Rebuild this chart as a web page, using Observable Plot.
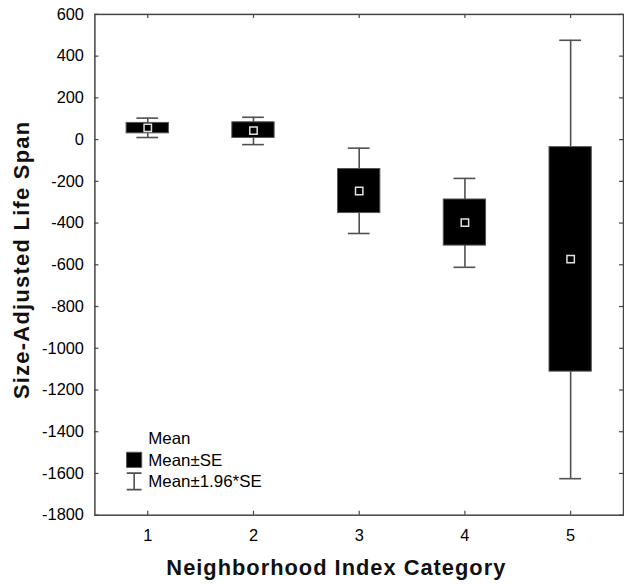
<!DOCTYPE html>
<html>
<head>
<meta charset="utf-8">
<script src="https://cdn.jsdelivr.net/npm/d3@7"></script>
<script src="https://cdn.jsdelivr.net/npm/@observablehq/plot@0.6"></script>
<style>
  html, body { margin: 0; padding: 0; background: #fff; overflow: hidden; }
  #chart svg { display: block; }
</style>
</head>
<body>
<div id="chart"></div>
<script>
// ---- data ----
const categories = [1, 2, 3, 4, 5];
const means      = [56, 43, -246, -398, -573];
const seLow      = [30, 8, -352, -508, -1112];
const seHigh     = [80, 83, -141, -287, -36];
const ciLow      = [10, -24, -450, -612, -1625];
const ciHigh     = [103, 107, -41, -186, 476];

const xTicks = [1, 2, 3, 4, 5];
const yTicks = [600, 400, 200, 0, -200, -400, -600, -800, -1000, -1200, -1400, -1600, -1800];

const xTitle = "Neighborhood Index Category";
const yTitle = "Size-Adjusted Life Span";
const legendLabels = ["Mean", "Mean\u00b1SE", "Mean\u00b11.96*SE"];

const rows = categories.map((c, i) => ({
  cat: c, mean: means[i], seLow: seLow[i], seHigh: seHigh[i], ciLow: ciLow[i], ciHigh: ciHigh[i]
}));

// ---- layout ----
const W = 628, H = 585;
const mL = 95, mR = 1, mT = 14, mB = 67;
const plotW = W - mL - mR, plotH = H - mT - mB;
const boxHalf = 0.2, capHalf = 0.103;
const whiskerColor = "#505050";

// I-beam symbol for the legend
const ibeam = {
  draw(ctx, size) {
    const r = Math.sqrt(size / Math.PI);
    const c = r * 0.9;
    ctx.moveTo(-c, -r); ctx.lineTo(c, -r);
    ctx.moveTo(0, -r); ctx.lineTo(0, r);
    ctx.moveTo(-c, r); ctx.lineTo(c, r);
  }
};

const fmt = d => String(d);

const chart = Plot.plot({
  width: W, height: H,
  marginLeft: mL, marginRight: mR, marginTop: mT, marginBottom: mB,
  style: { fontFamily: "'Liberation Sans', Arial, sans-serif", fontSize: "16.5px", color: "#000", background: "#fff" },
  x: { domain: [0.5, 5.5] },
  y: { domain: [-1800, 600] },
  marks: [
    Plot.axisY({ ticks: yTicks, tickFormat: fmt, tickSize: 0, tickPadding: 11, label: null, fontSize: 16.5 }),
    Plot.axisX({ ticks: xTicks, tickFormat: fmt, tickSize: 0, tickPadding: 14, label: null, fontSize: 16.5 }),
    // inward ticks on all four sides
    Plot.ruleY(yTicks, { insetRight: plotW - 4, stroke: "#444", strokeWidth: 1.2 }),
    Plot.ruleY(yTicks, { insetLeft: plotW - 4, stroke: "#444", strokeWidth: 1.2 }),
    Plot.ruleX(xTicks, { insetTop: plotH - 4, stroke: "#444", strokeWidth: 1.2 }),
    Plot.ruleX(xTicks, { insetBottom: plotH - 4, stroke: "#444", strokeWidth: 1.2 }),
    // whiskers
    Plot.ruleX(rows, { x: "cat", y1: "ciLow", y2: "seLow", stroke: whiskerColor, strokeWidth: 1.6 }),
    Plot.ruleX(rows, { x: "cat", y1: "seHigh", y2: "ciHigh", stroke: whiskerColor, strokeWidth: 1.6 }),
    Plot.ruleY(rows, { y: "ciHigh", x1: d => d.cat - capHalf, x2: d => d.cat + capHalf, stroke: whiskerColor, strokeWidth: 1.6 }),
    Plot.ruleY(rows, { y: "ciLow", x1: d => d.cat - capHalf, x2: d => d.cat + capHalf, stroke: whiskerColor, strokeWidth: 1.6 }),
    // SE boxes
    Plot.rect(rows, { x1: d => d.cat - boxHalf, x2: d => d.cat + boxHalf, y1: "seLow", y2: "seHigh", fill: "#000", stroke: "#555", strokeWidth: 1 }),
    // means
    Plot.dot(rows, { x: "cat", y: "mean", symbol: "square", r: 4.2, fill: "none", stroke: "#e2e2e2", strokeWidth: 1.5 }),
    // frame
    Plot.frame({ stroke: "#444", strokeWidth: 1.5 }),
    // axis titles
    Plot.text([xTitle], { frameAnchor: "bottom", dx: 338 - (mL + plotW / 2), dy: 53, lineAnchor: "middle", fontSize: 22, fontWeight: "bold", fill: "#111" }),
    Plot.text([yTitle], { frameAnchor: "left", dx: -73, dy: 261 - (mT + plotH / 2), rotate: -90, textAnchor: "middle", lineAnchor: "middle", fontSize: 22, fontWeight: "bold", fill: "#111" }),
    // legend
    Plot.text([legendLabels[0]], { frameAnchor: "bottom-left", dx: 53.7, dy: -77.3, textAnchor: "start", lineAnchor: "middle", fontSize: 17 }),
    Plot.text([legendLabels[1]], { frameAnchor: "bottom-left", dx: 53.7, dy: -54.7, textAnchor: "start", lineAnchor: "middle", fontSize: 17 }),
    Plot.text([legendLabels[2]], { frameAnchor: "bottom-left", dx: 53.7, dy: -34, textAnchor: "start", lineAnchor: "middle", fontSize: 17 }),
    Plot.dot([legendLabels[1]], { frameAnchor: "bottom-left", dx: 39.5, dy: -55.7, symbol: "square", r: 8.6, fill: "#000", stroke: "#555", strokeWidth: 1 }),
    Plot.dot([legendLabels[2]], { frameAnchor: "bottom-left", dx: 39.5, dy: -34, symbol: ibeam, r: 8.3, fill: "none", stroke: whiskerColor, strokeWidth: 1.6 })
  ]
});

// letter spacing for the bold titles
d3.select(chart).selectAll("text").each(function () {
  const t = this.textContent;
  if (t === xTitle) this.setAttribute("letter-spacing", "1");
  if (t === yTitle) this.setAttribute("letter-spacing", "1.3");
});

document.getElementById("chart").appendChild(chart);
</script>
</body>
</html>
